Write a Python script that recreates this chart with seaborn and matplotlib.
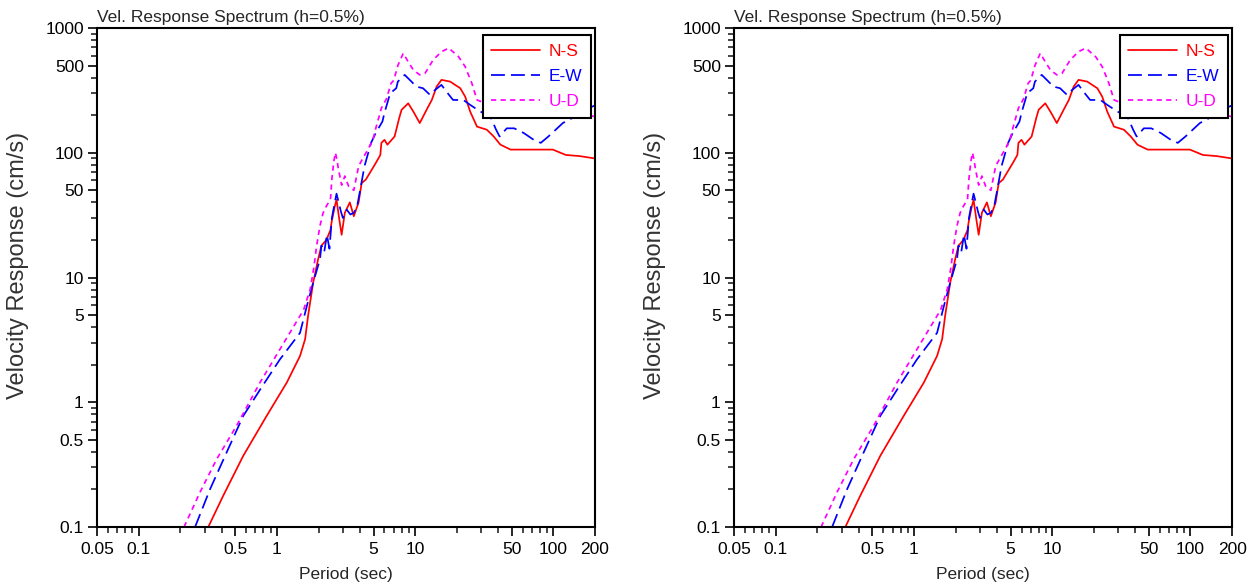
import matplotlib
matplotlib.use("Agg")
import matplotlib.pyplot as plt
import matplotlib.ticker as mticker
import numpy as np
import pandas as pd
import seaborn as sns

# --- response spectrum data (period in s, velocity response in cm/s) ---
ns_period = [0.319, 0.409, 0.571, 0.843, 1.18, 1.47, 1.6, 1.68, 1.83, 1.99, 2.1, 2.28,
             2.44, 2.49, 2.62, 2.7, 2.83, 2.94, 3.1, 3.37, 3.6, 3.9, 4.1, 4.4, 5.2, 5.6,
             5.7, 6.0, 6.3, 7.1, 7.67, 7.98, 8.91, 9.7, 10.8, 12.1, 13.2, 14.3, 15.5,
             17.9, 21.2, 23.0, 25.0, 28.0, 33.0, 37.0, 41.4, 49.0, 68.0, 99.0, 123.0,
             155.0, 200.0]
ns_vel = [0.1, 0.178, 0.372, 0.777, 1.44, 2.35, 3.2, 4.9, 9.1, 14.1, 18.0, 20.0,
          24.0, 28.0, 37.0, 42.0, 29.0, 22.0, 33.0, 40.0, 31.0, 40.0, 57.0, 61.0, 83.0, 96.0,
          120.0, 127.0, 116.0, 135.0, 190.0, 221.0, 249.0, 214.0, 173.0, 221.0, 265.0, 339.0, 384.0,
          372.0, 329.0, 282.0, 214.0, 162.0, 153.0, 135.0, 116.0, 106.0, 106.0, 106.0, 96.0,
          94.0, 90.0]

ew_period = [0.256, 0.328, 0.433, 0.571, 0.755, 1.05, 1.47, 1.64, 1.83, 2.05, 2.1, 2.2,
             2.3, 2.4, 2.5, 2.6, 2.7, 2.8, 2.9, 3.0, 3.2, 3.4, 3.6, 3.8, 4.0, 4.3, 4.8,
             5.2, 5.8, 6.0, 6.6, 7.3, 7.5, 8.4, 9.4, 10.2, 11.4, 12.8, 14.0, 15.5, 16.8,
             18.8, 22.3, 25.0, 29.6, 35.0, 38.5, 40.8, 46.0, 52.0, 61.0, 72.0, 81.0,
             92.0, 117.0, 150.0, 181.0, 200.0]
ew_vel = [0.1, 0.2, 0.396, 0.777, 1.26, 2.2, 3.6, 5.8, 9.1, 14.0, 18.0, 16.0,
          22.0, 17.0, 30.0, 38.0, 47.0, 40.0, 34.0, 30.0, 35.0, 32.0, 33.0, 37.0, 50.0, 78.0, 120.0,
          145.0, 178.0, 209.0, 300.0, 329.0, 372.0, 421.0, 372.0, 339.0, 329.0, 291.0, 320.0, 350.0, 310.0,
          265.0, 265.0, 242.0, 214.0, 195.0, 153.0, 135.0, 157.0, 157.0, 144.0, 127.0, 120.0,
          135.0, 173.0, 200.0, 228.0, 240.0]

ud_period = [0.213, 0.278, 0.367, 0.512, 0.755, 1.24, 1.56, 1.74, 1.85, 1.94, 2.05, 2.16,
             2.3, 2.44, 2.5, 2.58, 2.65, 2.72, 2.78, 2.94, 3.1, 3.3, 3.6, 3.9, 4.2, 4.55,
             4.95, 5.2, 5.7, 6.2, 6.7, 7.0, 7.5, 8.2, 8.9, 9.7, 10.8, 11.8, 13.5, 15.5,
             17.5, 20.6, 23.0, 25.7, 28.0, 32.0, 40.0, 50.0, 65.0, 85.0, 110.0, 150.0, 185.0, 200.0]
ud_vel = [0.1, 0.19, 0.35, 0.65, 1.44, 3.6, 5.5, 8.0, 12.0, 18.0, 26.0, 33.0,
          38.0, 42.0, 62.0, 85.0, 100.0, 88.0, 75.0, 55.0, 65.0, 54.0, 50.0, 78.0, 91.0, 106.0,
          127.0, 158.0, 228.0, 270.0, 361.0, 380.0, 500.0, 627.0, 537.0, 461.0, 421.0, 434.0, 555.0, 646.0,
          690.0, 589.0, 490.0, 361.0, 265.0, 250.0, 240.0, 230.0, 220.0, 215.0, 210.0, 205.0, 198.0, 195.0]

components = ["N-S", "E-W", "U-D"]
colors = {"N-S": "#ff0000", "E-W": "#0000ff", "U-D": "#ff00ff"}

x_major = [0.05, 0.1, 0.5, 1, 5, 10, 50, 100, 200]
x_major_labels = ["0.05", "0.1", "0.5", "1", "5", "10", "50", "100", "200"]
y_major = [0.1, 0.5, 1, 5, 10, 50, 100, 500, 1000]
y_major_labels = ["0.1", "0.5", "1", "5", "10", "50", "100", "500", "1000"]

frames = []
for name, per, vel in [("N-S", ns_period, ns_vel),
                       ("E-W", ew_period, ew_vel),
                       ("U-D", ud_period, ud_vel)]:
    frames.append(pd.DataFrame({"Period": per, "Velocity": vel, "Component": name}))
spectra = pd.concat(frames, ignore_index=True)

sns.set_style("white")
plt.rcParams["font.family"] = ["Liberation Sans", "DejaVu Sans"]

FS = 12.5

fig = plt.figure(figsize=(12.58, 5.87), dpi=100)
ax_w, ax_h, ax_b = 0.3959, 0.8501, 0.1022
axes = [fig.add_axes([0.0771, ax_b, ax_w, ax_h]),
        fig.add_axes([0.5835, ax_b, ax_w, ax_h])]

styles = {"N-S": "", "E-W": (8, 3.5), "U-D": (3, 2.5)}

for ax in axes:
    sns.lineplot(data=spectra, x="Period", y="Velocity", hue="Component",
                 style="Component", dashes=styles, palette=colors,
                 hue_order=components, style_order=components,
                 estimator=None, sort=False, linewidth=1.25, ax=ax)
    ax.set_xscale("log")
    ax.set_yscale("log")
    ax.set_xlim(0.05, 200)
    ax.set_ylim(0.1, 1000)

    ax.xaxis.set_major_locator(mticker.FixedLocator(x_major))
    ax.xaxis.set_major_formatter(mticker.FixedFormatter(x_major_labels))
    ax.yaxis.set_major_locator(mticker.FixedLocator(y_major))
    ax.yaxis.set_major_formatter(mticker.FixedFormatter(y_major_labels))
    x_minor = [m * d for d in (0.01, 0.1, 1, 10, 100) for m in range(2, 10)
               if 0.05 < m * d < 200 and m * d not in x_major]
    y_minor = [m * d for d in (0.1, 1, 10, 100) for m in range(2, 10)
               if m * d not in y_major]
    ax.xaxis.set_minor_locator(mticker.FixedLocator(x_minor))
    ax.yaxis.set_minor_locator(mticker.FixedLocator(y_minor))
    ax.xaxis.set_minor_formatter(mticker.NullFormatter())
    ax.yaxis.set_minor_formatter(mticker.NullFormatter())

    ax.tick_params(which="major", direction="out", length=6.5, width=1.2,
                   labelsize=FS, colors="black", bottom=True, left=True)
    ax.tick_params(which="minor", direction="out", length=4.3, width=1.2,
                   bottom=True, left=True)
    ax.tick_params(axis="x", which="major", pad=4)
    ax.tick_params(axis="y", which="major", pad=3)
    for sp in ax.spines.values():
        sp.set_color("black")
        sp.set_linewidth(1.5)

    ax.set_xlabel("Period (sec)", fontsize=FS)
    ax.set_ylabel("Velocity Response (cm/s)", fontsize=17, color="#333333")
    ax.xaxis.set_label_coords(0.5, -0.08)
    ax.yaxis.set_label_coords(-0.136, 0.525)
    ax.set_title("Vel. Response Spectrum (h=0.5%)", loc="left", fontsize=FS, pad=4.5)

    handles, labels = ax.get_legend_handles_labels()
    leg = ax.legend(handles=handles, labels=labels, loc="upper right",
                    bbox_to_anchor=(1 - 4 / 498, 1 - 7 / 499), borderaxespad=0,
                    fontsize=FS, frameon=True, fancybox=False, handlelength=2.8,
                    borderpad=0.5, labelspacing=0.58, handletextpad=0.5)
    leg.get_frame().set_edgecolor("black")
    leg.get_frame().set_linewidth(1.5)
    leg.get_frame().set_alpha(1)
    for txt in leg.get_texts():
        txt.set_color(colors[txt.get_text()])

fig.savefig("out.png", dpi=100, facecolor="white")
